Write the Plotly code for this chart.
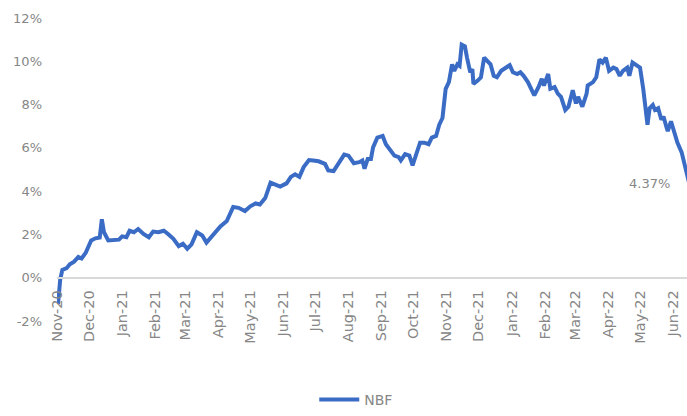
import plotly.graph_objects as go

# NBF cumulative return (%), trading days Nov 2020 - Jun 2022
dates = [
    "2020-11-02", "2020-11-03", "2020-11-04", "2020-11-06", "2020-11-10", "2020-11-13",
    "2020-11-17", "2020-11-21", "2020-11-24", "2020-11-28", "2020-12-03", "2020-12-07",
    "2020-12-11", "2020-12-13", "2020-12-15", "2020-12-19", "2020-12-24", "2020-12-29",
    "2021-01-01", "2021-01-05", "2021-01-08", "2021-01-12", "2021-01-16", "2021-01-21",
    "2021-01-26", "2021-01-30", "2021-02-04", "2021-02-09", "2021-02-13", "2021-02-18",
    "2021-02-23", "2021-02-27", "2021-03-03", "2021-03-07", "2021-03-12", "2021-03-17",
    "2021-03-21", "2021-03-28", "2021-04-03", "2021-04-09", "2021-04-15", "2021-04-20",
    "2021-04-26", "2021-05-01", "2021-05-06", "2021-05-10", "2021-05-15", "2021-05-20",
    "2021-05-24", "2021-05-29", "2021-06-04", "2021-06-08", "2021-06-12", "2021-06-16",
    "2021-06-20", "2021-06-25", "2021-06-29", "2021-07-04", "2021-07-10", "2021-07-13",
    "2021-07-18", "2021-07-23", "2021-07-28", "2021-08-01", "2021-08-06", "2021-08-11",
    "2021-08-14", "2021-08-16", "2021-08-19", "2021-08-22", "2021-08-24", "2021-08-28",
    "2021-09-02", "2021-09-05", "2021-09-09", "2021-09-13", "2021-09-17", "2021-09-19",
    "2021-09-23", "2021-09-27", "2021-09-30", "2021-10-03", "2021-10-07", "2021-10-11",
    "2021-10-15", "2021-10-18", "2021-10-22", "2021-10-25", "2021-10-28", "2021-10-31",
    "2021-11-03", "2021-11-06", "2021-11-08", "2021-11-11", "2021-11-13", "2021-11-15",
    "2021-11-18", "2021-11-20", "2021-11-23", "2021-11-25", "2021-11-26", "2021-11-30",
    "2021-12-03", "2021-12-06", "2021-12-09", "2021-12-12", "2021-12-15", "2021-12-18",
    "2021-12-22", "2021-12-26", "2021-12-30", "2022-01-02", "2022-01-06", "2022-01-09",
    "2022-01-12", "2022-01-16", "2022-01-19", "2022-01-22", "2022-01-26", "2022-01-29",
    "2022-01-31", "2022-02-04", "2022-02-06", "2022-02-10", "2022-02-13", "2022-02-16",
    "2022-02-20", "2022-02-23", "2022-02-27", "2022-03-02", "2022-03-04", "2022-03-08",
    "2022-03-12", "2022-03-13", "2022-03-18", "2022-03-21", "2022-03-24", "2022-03-27",
    "2022-03-30", "2022-04-02", "2022-04-06", "2022-04-09", "2022-04-12", "2022-04-15",
    "2022-04-19", "2022-04-21", "2022-04-24", "2022-04-27", "2022-05-01", "2022-05-04",
    "2022-05-06", "2022-05-08", "2022-05-10", "2022-05-13", "2022-05-15", "2022-05-18",
    "2022-05-21", "2022-05-23", "2022-05-26", "2022-05-27", "2022-05-30", "2022-06-02",
    "2022-06-05", "2022-06-09", "2022-06-11", "2022-06-13", "2022-06-16",
]

nbf = [
    -1.22, -0.69, -0.09, 0.36, 0.44, 0.62,
    0.74, 0.96, 0.89, 1.16, 1.72, 1.82,
    1.86, 2.70, 2.10, 1.72, 1.76, 1.76,
    1.91, 1.87, 2.17, 2.10, 2.25, 2.02,
    1.87, 2.13, 2.10, 2.17, 2.02, 1.80,
    1.46, 1.57, 1.34, 1.54, 2.10, 1.95,
    1.62, 2.02, 2.37, 2.62, 3.27, 3.23,
    3.08, 3.30, 3.43, 3.38, 3.68, 4.39,
    4.33, 4.21, 4.36, 4.66, 4.78, 4.66,
    5.11, 5.44, 5.42, 5.38, 5.26, 4.96,
    4.93, 5.34, 5.69, 5.64, 5.29, 5.34,
    5.42, 5.04, 5.49, 5.49, 6.02, 6.47,
    6.55, 6.17, 5.87, 5.64, 5.57, 5.42,
    5.71, 5.64, 5.19, 5.71, 6.24, 6.24,
    6.17, 6.47, 6.55, 7.07, 7.38, 8.73,
    9.04, 9.86, 9.56, 9.86, 9.79, 10.77,
    10.69, 10.17, 9.49, 9.64, 8.96, 9.11,
    9.26, 10.17, 10.01, 9.86, 9.33, 9.26,
    9.56, 9.71, 9.82, 9.49, 9.41, 9.49,
    9.33, 9.04, 8.73, 8.43, 8.81, 9.19,
    8.88, 9.41, 8.73, 8.81, 8.51, 8.36,
    7.75, 7.90, 8.66, 8.05, 8.36, 7.90,
    8.51, 8.88, 9.04, 9.26, 10.09, 9.94,
    10.17, 9.56, 9.71, 9.64, 9.33, 9.56,
    9.71, 9.33, 9.94, 9.86, 9.71, 8.73,
    7.75, 7.07, 7.83, 7.98, 7.75, 7.83,
    7.30, 7.45, 6.92, 6.77, 7.23, 6.70,
    6.24, 5.79, 5.42, 4.96, 4.37,
]

y_ticks = [-2, 0, 2, 4, 6, 8, 10, 12]
y_tick_labels = ["-2%", "0%", "2%", "4%", "6%", "8%", "10%", "12%"]
series_name = "NBF"
last_label = "4.37%"

GREY = "#868686"
BLUE = "#3a6cc6"
FONT = "DejaVu Sans"

fig = go.Figure()
fig.add_trace(go.Scatter(
    x=dates, y=nbf, mode="lines", name=series_name,
    line=dict(color=BLUE, width=4),
))

fig.add_annotation(
    x=0.94, xref="paper", y=nbf[-1], yref="y",
    text=last_label, showarrow=False, xanchor="center", yanchor="middle",
    font=dict(family=FONT, size=13, color=GREY),
)

y_min, y_max = y_ticks[0], y_ticks[-1]

fig.update_layout(
    width=687, height=416,
    margin=dict(l=57, r=0, t=18, b=90),
    paper_bgcolor="white", plot_bgcolor="white",
    font=dict(family=FONT, color=GREY),
    showlegend=True,
    legend=dict(
        orientation="h", x=0.475, xanchor="center", y=-0.262, yanchor="middle",
        font=dict(family=FONT, size=14, color=GREY),
        itemwidth=40,
    ),
    xaxis=dict(
        type="date",
        range=["2020-11-01", "2022-06-14"],
        tick0="2020-11-01", dtick="M1", tickformat="%b-%y",
        tickangle=-90,
        tickfont=dict(family=FONT, size=14.5, color=GREY),
        anchor="free", position=(0 - y_min) / (y_max - y_min),
        showline=True, linecolor="#d9d9d9", linewidth=1.5,
        showgrid=False, zeroline=False, ticks="",
        ticklabelstandoff=6,
    ),
    yaxis=dict(
        range=[y_min, y_max],
        tickvals=y_ticks, ticktext=y_tick_labels,
        tickfont=dict(family=FONT, size=13, color=GREY),
        showgrid=False, zeroline=False, showline=False, ticks="",
        ticklabelstandoff=14,
    ),
)

fig.write_html("out.html")
